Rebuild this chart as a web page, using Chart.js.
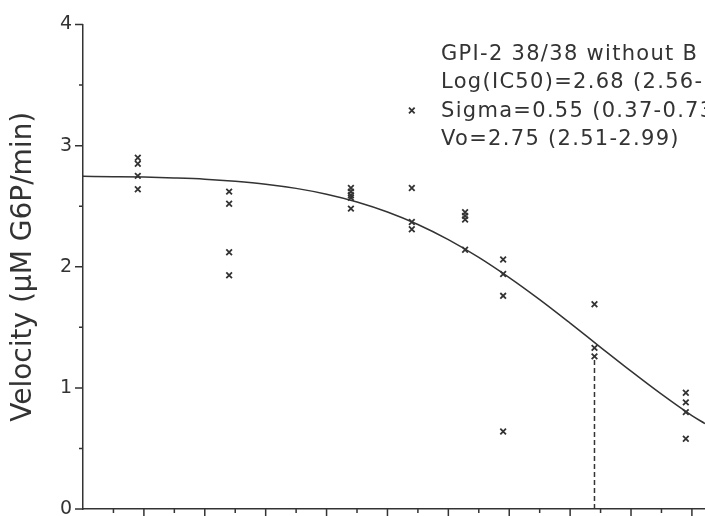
<!DOCTYPE html>
<html>
<head>
<meta charset="utf-8">
<script src="https://cdn.jsdelivr.net/npm/chart.js@4.4.0/dist/chart.umd.min.js"></script>
<style>
  html, body { margin: 0; padding: 0; background: #fff; }
  #wrap { width: 705px; height: 516px; }
</style>
</head>
<body>
<div id="wrap"><canvas id="chart" width="705" height="516"></canvas></div>
<script>
// log concentration of each column of replicates
const logConc = [1.18, 1.48, 1.88, 2.08, 2.255, 2.38, 2.68, 2.98];
// measured velocities (uM G6P/min) at each concentration
const velocities = [
  [2.90, 2.85, 2.75, 2.64],
  [2.62, 2.52, 2.12, 1.93],
  [2.65, 2.62, 2.59, 2.57, 2.48],
  [3.29, 2.65, 2.37, 2.31],
  [2.45, 2.42, 2.39, 2.14],
  [2.06, 1.94, 1.76, 0.64],
  [1.69, 1.33, 1.26],
  [0.96, 0.88, 0.80, 0.58]
];

// fitted curve
const curveX = [1.0, 1.1, 1.2, 1.3, 1.4, 1.5, 1.6, 1.7, 1.8, 1.9, 2.0, 2.1, 2.2, 2.3, 2.4, 2.5, 2.6, 2.7, 2.8, 2.9, 3.0, 3.043];
const curveV = [2.747, 2.744, 2.740, 2.733, 2.723, 2.706, 2.682, 2.647, 2.599, 2.535, 2.452, 2.349, 2.224, 2.077, 1.910, 1.728, 1.534, 1.335, 1.138, 0.948, 0.771, 0.705];

// IC50 marker
const logIC50 = 2.68;
const ic50Top = 1.26;

const yTicks = [0, 1, 2, 3, 4];
const fitLines = [
  "GPI-2 38/38 without B",
  "Log(IC50)=2.68 (2.56-",
  "Sigma=0.55 (0.37-0.73",
  "Vo=2.75 (2.51-2.99)"
];

const INK = "#333";

const points = [];
logConc.forEach((x, i) => {
  velocities[i].forEach(v => points.push({ x, y: v }));
});
const curve = curveX.map((x, i) => ({ x, y: curveV[i] }));

// small tick marks on both axes (major + minor)
const tickMarks = {
  id: "tickMarks",
  afterDraw(chart) {
    const { ctx, scales: { x, y } } = chart;
    ctx.save();
    ctx.strokeStyle = INK;
    ctx.lineWidth = 1.5;
    ctx.beginPath();
    for (let i = 11; i <= 30; i++) {
      const px = x.getPixelForValue(i / 10);
      const len = i % 2 === 0 ? 7 : 4;
      ctx.moveTo(px, y.bottom);
      ctx.lineTo(px, y.bottom + len);
    }
    for (let i = 0; i <= 8; i++) {
      const py = y.getPixelForValue(i / 2);
      const len = i % 2 === 0 ? 8 : 4;
      ctx.moveTo(x.left, py);
      ctx.lineTo(x.left - len, py);
    }
    ctx.stroke();
    ctx.restore();
  }
};

// fit results text block
const fitText = {
  id: "fitText",
  afterDraw(chart) {
    const ctx = chart.ctx;
    ctx.save();
    ctx.fillStyle = INK;
    ctx.font = "21px 'DejaVu Sans'";
    ctx.letterSpacing = "1.3px";
    ctx.textBaseline = "alphabetic";
    fitLines.forEach((t, i) => ctx.fillText(t, 441, 60 + i * 28.4));
    ctx.restore();
  }
};

new Chart(document.getElementById("chart"), {
  type: "scatter",
  data: {
    datasets: [
      {
        label: "Replicates",
        data: points,
        pointStyle: "crossRot",
        pointRadius: 4,
        pointBorderWidth: 1.8,
        borderColor: INK,
        backgroundColor: INK,
        showLine: false
      },
      {
        label: "Fit",
        data: curve,
        showLine: true,
        pointRadius: 0,
        borderColor: INK,
        borderWidth: 1.5,
        cubicInterpolationMode: "monotone"
      },
      {
        label: "IC50",
        data: [{ x: logIC50, y: 0 }, { x: logIC50, y: ic50Top }],
        showLine: true,
        pointRadius: 0,
        borderColor: INK,
        borderWidth: 1.5,
        borderDash: [5, 3]
      }
    ]
  },
  options: {
    responsive: false,
    animation: false,
    layout: { autoPadding: false, padding: { top: 24.5, right: 0, bottom: 7, left: 0 } },
    plugins: { legend: { display: false }, tooltip: { enabled: false } },
    scales: {
      x: {
        type: "linear",
        min: 1,
        max: 3.043,
        ticks: { display: false },
        grid: { display: false, drawTicks: false },
        border: { color: INK, width: 1.5 },
        afterFit: s => { s.height = 0; s.paddingLeft = 0; s.paddingRight = 0; }
      },
      y: {
        min: 0,
        max: 4,
        afterBuildTicks: s => { s.ticks = yTicks.map(v => ({ value: v })); },
        ticks: { padding: 11, color: INK, font: { family: "DejaVu Sans", size: 19 } },
        grid: { display: false, drawTicks: false },
        border: { color: INK, width: 1.5 },
        title: {
          display: true,
          text: "Velocity (μM G6P/min)",
          color: INK,
          font: { family: "DejaVu Sans", size: 28 },
          padding: { top: 7, bottom: 0 }
        },
        afterFit: s => { s.width = 83; s.paddingTop = 0; s.paddingBottom = 0; }
      }
    }
  },
  plugins: [tickMarks, fitText]
});
</script>
</body>
</html>
